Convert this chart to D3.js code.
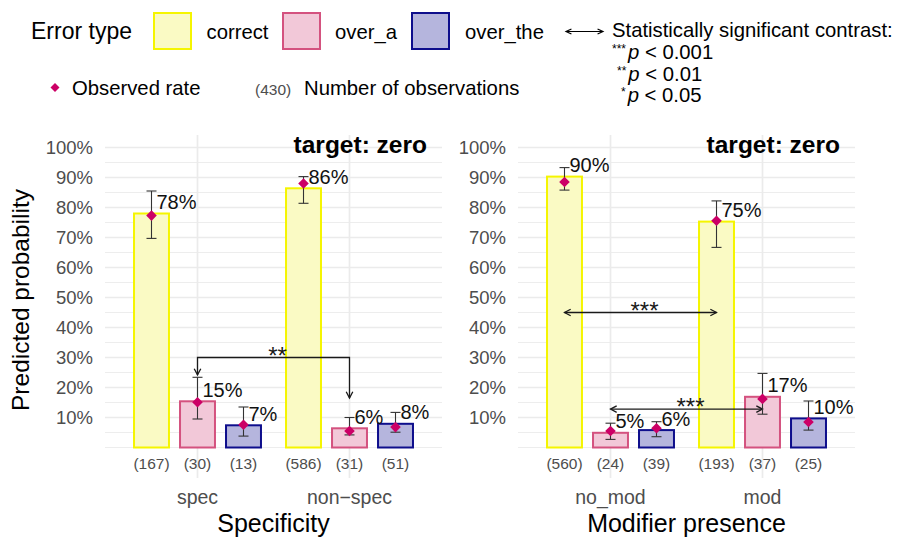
<!DOCTYPE html>
<html>
<head>
<meta charset="utf-8">
<script src="https://cdn.jsdelivr.net/npm/d3@7/dist/d3.min.js"></script>
<style>
  html, body { margin: 0; padding: 0; background: #fff; }
  svg { display: block; font-family: "Liberation Sans", Arial, Helvetica, sans-serif; }
</style>
</head>
<body>
<svg id="chart" width="901" height="538"></svg>
<script>
// ---- data ------------------------------------------------------------
const errorTypes = ["correct", "over_a", "over_the"];
const yTicks = [0.1, 0.2, 0.3, 0.4, 0.5, 0.6, 0.7, 0.8, 0.9, 1.0];
const yMinor = [0, 0.05, 0.15, 0.25, 0.35, 0.45, 0.55, 0.65, 0.75, 0.85, 0.95];

// Panel 1: Specificity (rows = categories, columns = error types)
const specCategories = ["spec", "non\u2212spec"];
const specPredicted = [[0.780, 0.154, 0.074], [0.864, 0.064, 0.079]];
const specObserved  = [[0.773, 0.151, 0.076], [0.880, 0.055, 0.068]];
const specLower     = [[0.697, 0.095, 0.038], [0.814, 0.042, 0.051]];
const specUpper     = [[0.855, 0.234, 0.135], [0.903, 0.100, 0.117]];
const specCounts    = [[167, 30, 13], [586, 31, 51]];

// Panel 2: Modifier presence
const modCategories = ["no_mod", "mod"];
const modPredicted = [[0.903, 0.049, 0.058], [0.753, 0.169, 0.097]];
const modObserved  = [[0.885, 0.055, 0.064], [0.756, 0.162, 0.085]];
const modLower     = [[0.858, 0.027, 0.036], [0.667, 0.111, 0.058]];
const modUpper     = [[0.933, 0.081, 0.086], [0.822, 0.247, 0.155]];
const modCounts    = [[560, 24, 39], [193, 37, 25]];

// Significant contrasts between two bars of the same error type
const specContrasts = [
  { from: "spec", to: "non\u2212spec", type: "over_a", level: 0.30, ends: [0.242, 0.165], stars: "**", style: "bracket" }
];
const modContrasts = [
  { from: "no_mod", to: "mod", type: "correct", level: 0.45, stars: "***", style: "double" },
  { from: "no_mod", to: "mod", type: "over_a", level: 0.128, stars: "***", style: "double" }
];

// p-value key
const pStars = ["***", "**", "*"];
const pThresholds = ["0.001", "0.01", "0.05"];

// ---- styles ------------------------------------------------------------
const fillColor   = { correct: "#FAFAC4", over_a: "#F2C8D8", over_the: "#B5B5DD" };
const strokeColor = { correct: "#F5F500", over_a: "#D4527F", over_the: "#0E0E8C" };
const pointColor = "#CC0066";
const gridColor = "#EBEBEB";
const axisTextColor = "#4D4D4D";

const svg = d3.select("#chart");
svg.append("rect").attr("width", 901).attr("height", 538).attr("fill", "#fff");

const y = d3.scaleLinear().domain([0, 1]).range([447.5, 147.5]);
const panelTop = 135, panelBottom = 478;
const pct = d3.format(".0%");

function arrowHead(g, x, yy, angleDeg) {
  // open arrowhead pointing in direction angleDeg (0 = right, 90 = down)
  const a = angleDeg * Math.PI / 180, len = 7, spread = 28 * Math.PI / 180;
  const p1 = [x - len * Math.cos(a - spread), yy - len * Math.sin(a - spread)];
  const p2 = [x - len * Math.cos(a + spread), yy - len * Math.sin(a + spread)];
  g.append("path")
    .attr("d", `M${p1[0]},${p1[1]}L${x},${yy}L${p2[0]},${p2[1]}`)
    .attr("fill", "none").attr("stroke", "#1A1A1A").attr("stroke-width", 1.3);
}

function drawPanel(opts) {
  const { left, right, categories, predicted, observed, lower, upper, counts, contrasts, xTitle } = opts;
  const g = svg.append("g");

  const x = d3.scalePoint().domain(categories).range([left, right]).padding(0.6085);
  const inner = d3.scaleBand().domain(errorTypes).range([-69, 69]).paddingInner(0.24).paddingOuter(0.12);
  const cx = (cat, type) => x(cat) + inner(type) + inner.bandwidth() / 2;

  // grid
  g.selectAll(".minor").data(yMinor).join("line")
    .attr("x1", left).attr("x2", right).attr("y1", d => y(d)).attr("y2", d => y(d))
    .attr("stroke", gridColor).attr("stroke-width", 0.9);
  g.selectAll(".major").data(yTicks).join("line")
    .attr("x1", left).attr("x2", right).attr("y1", d => y(d)).attr("y2", d => y(d))
    .attr("stroke", gridColor).attr("stroke-width", 1.7);
  g.selectAll(".vgrid").data(categories).join("line")
    .attr("x1", d => x(d)).attr("x2", d => x(d)).attr("y1", panelTop).attr("y2", panelBottom)
    .attr("stroke", gridColor).attr("stroke-width", 1.7);

  // y tick labels
  g.selectAll(".ytick").data(yTicks).join("text")
    .attr("x", left - 12).attr("y", d => y(d)).attr("dy", "0.35em")
    .attr("text-anchor", "end").attr("font-size", 18.5).attr("fill", axisTextColor)
    .text(d => pct(d));

  // flatten rows
  const rows = [];
  categories.forEach((cat, i) => errorTypes.forEach((t, j) => rows.push({
    cat, type: t, pred: predicted[i][j], obs: observed[i][j], lo: lower[i][j], hi: upper[i][j], n: counts[i][j]
  })));

  // bars
  g.selectAll(".bar").data(rows).join("rect")
    .attr("x", d => x(d.cat) + inner(d.type))
    .attr("width", inner.bandwidth())
    .attr("y", d => y(d.pred))
    .attr("height", d => y(0) - y(d.pred))
    .attr("fill", d => fillColor[d.type])
    .attr("stroke", d => strokeColor[d.type]).attr("stroke-width", 2);

  // contrasts (drawn beneath error bars and points)
  contrasts.forEach(c => {
    const x1 = cx(c.from, c.type), x2 = cx(c.to, c.type);
    if (c.style === "bracket") {
      g.append("path")
        .attr("d", `M${x1},${y(c.ends[0])}V${y(c.level)}H${x2}V${y(c.ends[1])}`)
        .attr("fill", "none").attr("stroke", "#1A1A1A").attr("stroke-width", 1.3);
      arrowHead(g, x1, y(c.ends[0]), 90);
      arrowHead(g, x2, y(c.ends[1]), 90);
    } else {
      g.append("line").attr("x1", x1).attr("x2", x2).attr("y1", y(c.level)).attr("y2", y(c.level))
        .attr("stroke", "#1A1A1A").attr("stroke-width", 1.3);
      arrowHead(g, x1, y(c.level), 180);
      arrowHead(g, x2, y(c.level), 0);
    }
    g.append("text").attr("x", (x1 + x2) / 2 + 4).attr("y", y(c.level) + 6)
      .attr("text-anchor", "middle").attr("font-size", 24).attr("fill", "#1A1A1A")
      .text(c.stars);
  });

  // error bars
  const eb = g.selectAll(".eb").data(rows).join("g").attr("stroke", "#333").attr("stroke-width", 1.1);
  eb.append("line").attr("x1", d => cx(d.cat, d.type)).attr("x2", d => cx(d.cat, d.type))
    .attr("y1", d => y(d.lo)).attr("y2", d => y(d.hi));
  eb.append("line").attr("x1", d => cx(d.cat, d.type) - 5).attr("x2", d => cx(d.cat, d.type) + 5)
    .attr("y1", d => y(d.lo)).attr("y2", d => y(d.lo));
  eb.append("line").attr("x1", d => cx(d.cat, d.type) - 5).attr("x2", d => cx(d.cat, d.type) + 5)
    .attr("y1", d => y(d.hi)).attr("y2", d => y(d.hi));

  // observed-rate diamonds
  const diamond = d3.symbol().type(d3.symbolSquare).size(56);
  g.selectAll(".pt").data(rows).join("path")
    .attr("d", diamond)
    .attr("transform", d => `translate(${cx(d.cat, d.type)},${y(d.obs)}) rotate(45)`)
    .attr("fill", pointColor);

  // value labels
  g.selectAll(".val").data(rows).join("text")
    .attr("x", d => cx(d.cat, d.type) + 5).attr("y", d => y(d.pred) - 4.5)
    .attr("font-size", 20).attr("fill", "#111")
    .text(d => pct(d.pred));

  // counts
  g.selectAll(".cnt").data(rows).join("text")
    .attr("x", d => cx(d.cat, d.type)).attr("y", 468.5)
    .attr("text-anchor", "middle").attr("font-size", 15.5).attr("fill", axisTextColor)
    .text(d => `(${d.n})`);

  // category labels
  g.selectAll(".cat").data(categories).join("text")
    .attr("x", d => x(d)).attr("y", 504)
    .attr("text-anchor", "middle").attr("font-size", 19.5).attr("fill", axisTextColor)
    .text(d => d);

  // panel title
  g.append("text").attr("x", right - 15).attr("y", 152.5)
    .attr("text-anchor", "end").attr("font-size", 24.5).attr("font-weight", "bold").attr("fill", "#000")
    .text("target: zero");

  // x axis title
  g.append("text").attr("x", (left + right) / 2).attr("y", 531.5)
    .attr("text-anchor", "middle").attr("font-size", 25).attr("fill", "#000")
    .text(xTitle);
}

drawPanel({ left: 105, right: 442, categories: specCategories, predicted: specPredicted,
  observed: specObserved, lower: specLower, upper: specUpper, counts: specCounts,
  contrasts: specContrasts, xTitle: "Specificity" });
drawPanel({ left: 518, right: 855, categories: modCategories, predicted: modPredicted,
  observed: modObserved, lower: modLower, upper: modUpper, counts: modCounts,
  contrasts: modContrasts, xTitle: "Modifier presence" });

// y axis title
svg.append("text").attr("transform", "translate(29,300) rotate(-90)")
  .attr("text-anchor", "middle").attr("font-size", 24.5).attr("fill", "#000")
  .text("Predicted probability");

// ---- legend ------------------------------------------------------------
const lg = svg.append("g");
lg.append("text").attr("x", 31).attr("y", 39).attr("font-size", 23).attr("fill", "#000").text("Error type");
const keyX = { correct: 154, over_a: 283, over_the: 412 };
const keyLabelX = { correct: 206.5, over_a: 335, over_the: 465 };
errorTypes.forEach(t => {
  lg.append("rect").attr("x", keyX[t]).attr("y", 13).attr("width", 37).attr("height", 36)
    .attr("fill", fillColor[t]).attr("stroke", strokeColor[t]).attr("stroke-width", 2);
  lg.append("text").attr("x", keyLabelX[t]).attr("y", 38.5).attr("font-size", 20.3).attr("fill", "#000").text(t);
});

// contrast key
lg.append("line").attr("x1", 566).attr("x2", 603).attr("y1", 31.5).attr("y2", 31.5)
  .attr("stroke", "#000").attr("stroke-width", 1.2);
[[566, 180], [603, 0]].forEach(([ax, ang]) => {
  const a = ang * Math.PI / 180, len = 6, sp = 25 * Math.PI / 180;
  lg.append("path")
    .attr("d", `M${ax - len * Math.cos(a - sp)},${31.5 - len * Math.sin(a - sp)}L${ax},31.5L${ax - len * Math.cos(a + sp)},${31.5 - len * Math.sin(a + sp)}`)
    .attr("fill", "none").attr("stroke", "#000").attr("stroke-width", 1.2);
});
lg.append("text").attr("x", 612).attr("y", 37).attr("font-size", 20.3).attr("fill", "#000")
  .text("Statistically significant contrast:");

const pBase = [59, 80.5, 101.5];
const pStart = [612, 617, 621];
pStars.forEach((s, i) => {
  const t = lg.append("text").attr("x", pStart[i]).attr("y", pBase[i]).attr("font-size", 20.3).attr("fill", "#000");
  t.append("tspan").attr("font-size", 12).attr("dy", -6).text(s);
  t.append("tspan").attr("dx", 2).attr("dy", 6).attr("font-style", "italic").text("p");
  t.append("tspan").text(" < " + pThresholds[i]);
});

// second legend row
lg.append("path").attr("d", d3.symbol().type(d3.symbolSquare).size(40))
  .attr("transform", "translate(55,87.5) rotate(45)").attr("fill", pointColor);
lg.append("text").attr("x", 72).attr("y", 95).attr("font-size", 20.3).attr("fill", "#000").text("Observed rate");
lg.append("text").attr("x", 255).attr("y", 95).attr("font-size", 15.5).attr("fill", axisTextColor).text("(430)");
lg.append("text").attr("x", 304).attr("y", 95).attr("font-size", 20.3).attr("fill", "#000").text("Number of observations");
</script>
</body>
</html>
